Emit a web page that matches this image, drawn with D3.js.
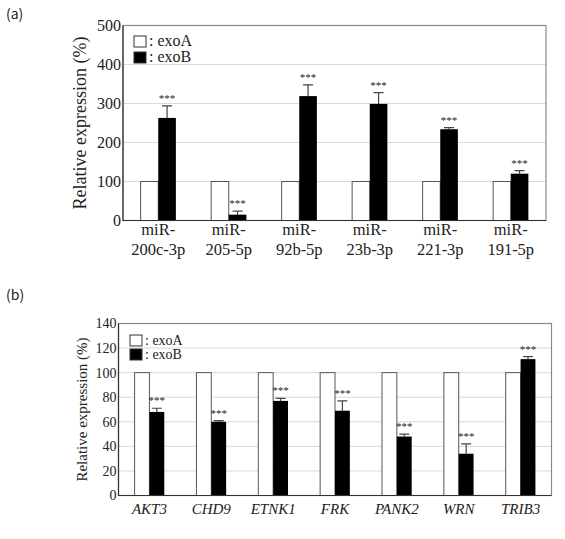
<!DOCTYPE html>
<html>
<head>
<meta charset="utf-8">
<script src="https://cdn.jsdelivr.net/npm/d3@7"></script>
<style>
  body { margin: 0; background: #fff; }
  svg { display: block; }
</style>
</head>
<body>
<script>
// panel (a) data
var miRNames = [["miR-", "200c-3p"], ["miR-", "205-5p"], ["miR-", "92b-5p"], ["miR-", "23b-3p"], ["miR-", "221-3p"], ["miR-", "191-5p"]];
var miRExoA = [100, 100, 100, 100, 100, 100];
var miRExoB = [263, 15, 319, 299, 234, 120];
var miRErr = [31, 9, 29, 29, 4, 8];
var miRTicks = [0, 100, 200, 300, 400, 500];

// panel (b) data
var genes = ["AKT3", "CHD9", "ETNK1", "FRK", "PANK2", "WRN", "TRIB3"];
var geneExoA = [100, 100, 100, 100, 100, 100, 100];
var geneExoB = [68, 60, 77, 69, 48, 34, 111];
var geneErr = [3, 1, 2, 8, 2, 8, 2];
var geneTicks = [0, 20, 40, 60, 80, 100, 120, 140];

var svg = d3.select("body").append("svg")
    .attr("width", 565)
    .attr("height", 539);

var serif = "'Liberation Serif', 'Times New Roman', serif";

// draws one bar panel
function bar_panel(cfg) {
  var x = d3.scaleBand()
      .domain(d3.range(cfg.labels.length))
      .range([cfg.left, cfg.right])
      .padding(0);
  var y = d3.scaleLinear()
      .domain([0, cfg.max])
      .range([cfg.bottom, cfg.top]);
  var bw = x.bandwidth() * cfg.barFrac;

  var g = svg.append("g");

  // gridlines
  g.selectAll(".grid")
      .data(cfg.ticks.filter(function(t) { return t > 0 && t < cfg.max; }))
    .enter().append("line")
      .attr("x1", cfg.left).attr("x2", cfg.right)
      .attr("y1", function(d) { return y(d); })
      .attr("y2", function(d) { return y(d); })
      .attr("stroke", "#d9d9d9")
      .attr("stroke-width", 1);

  // frame (top + right gray)
  g.append("rect")
      .attr("x", cfg.left).attr("y", cfg.top)
      .attr("width", cfg.right - cfg.left)
      .attr("height", cfg.bottom - cfg.top)
      .attr("fill", "none")
      .attr("stroke", "#8a8a8a")
      .attr("stroke-width", 1.2);

  // bars exoA
  g.selectAll(".barA")
      .data(cfg.exoA)
    .enter().append("rect")
      .attr("x", function(d, i) { return x(i) + x.bandwidth() / 2 - bw; })
      .attr("width", bw)
      .attr("y", function(d) { return y(d); })
      .attr("height", function(d) { return cfg.bottom - y(d); })
      .attr("fill", "#fff")
      .attr("stroke", "#555")
      .attr("stroke-width", 1);

  // error bars
  g.selectAll(".err")
      .data(cfg.exoB)
    .enter().append("path")
      .attr("d", function(d, i) {
        var cx = x(i) + x.bandwidth() / 2 + bw / 2;
        var yt = y(d + cfg.err[i]);
        return "M" + cx + "," + y(d) + "V" + yt + "M" + (cx - 5) + "," + yt + "H" + (cx + 5);
      })
      .attr("stroke", "#444")
      .attr("stroke-width", 1.2)
      .attr("fill", "none");

  // bars exoB
  g.selectAll(".barB")
      .data(cfg.exoB)
    .enter().append("rect")
      .attr("x", function(d, i) { return x(i) + x.bandwidth() / 2; })
      .attr("width", bw)
      .attr("y", function(d) { return y(d); })
      .attr("height", function(d) { return cfg.bottom - y(d); })
      .attr("fill", "#000");

  // significance stars
  g.selectAll(".star")
      .data(cfg.exoB)
    .enter().append("text")
      .attr("x", function(d, i) { return x(i) + x.bandwidth() / 2 + bw / 2; })
      .attr("y", function(d, i) { return y(d + cfg.err[i]) - 4; })
      .attr("text-anchor", "middle")
      .style("font-family", serif)
      .style("font-size", "11px")
      .attr("fill", "#222")
      .text("***");

  // left + bottom axis lines
  g.append("path")
      .attr("d", "M" + cfg.left + "," + cfg.top + "V" + cfg.bottom + "H" + cfg.right)
      .attr("stroke", "#333")
      .attr("stroke-width", 1.2)
      .attr("fill", "none");

  // y tick labels
  var yAxis = g.append("g")
      .attr("transform", "translate(" + cfg.left + ",0)")
      .call(d3.axisLeft(y).tickValues(cfg.ticks).tickSize(0).tickPadding(2));
  yAxis.select(".domain").remove();
  yAxis.selectAll("text")
      .style("font-family", serif)
      .style("font-size", cfg.tickFont)
      .attr("fill", "#222");

  // y title
  g.append("text")
      .attr("transform", "translate(" + cfg.titleX + "," + ((cfg.top + cfg.bottom) / 2) + ") rotate(-90)")
      .attr("text-anchor", "middle")
      .style("font-family", serif)
      .style("font-size", cfg.titleFont)
      .attr("fill", "#222")
      .text("Relative expression (%)");

  // x labels
  cfg.labels.forEach(function(lab, i) {
    var lines = Array.isArray(lab) ? lab : [lab];
    lines.forEach(function(s, j) {
      g.append("text")
          .attr("x", x(i) + x.bandwidth() / 2)
          .attr("y", cfg.bottom + cfg.labelY + j * 20)
          .attr("text-anchor", "middle")
          .style("font-family", serif)
          .style("font-size", cfg.labelFont)
          .style("font-style", cfg.italic ? "italic" : "normal")
          .attr("fill", "#222")
          .text(s);
    });
  });

  // legend
  var lg = [["#fff", ": exoA"], ["#000", ": exoB"]];
  lg.forEach(function(l, j) {
    var ly = cfg.legY + j * cfg.legStep;
    g.append("rect")
        .attr("x", cfg.legX).attr("y", ly)
        .attr("width", cfg.legBox).attr("height", cfg.legBox - 1)
        .attr("fill", l[0])
        .attr("stroke", "#333")
        .attr("stroke-width", 1);
    g.append("text")
        .attr("x", cfg.legX + cfg.legBox + 3)
        .attr("y", ly + cfg.legBox - 2)
        .style("font-family", serif)
        .style("font-size", cfg.legFont)
        .attr("fill", "#222")
        .text(l[1]);
  });

  // panel letter
  svg.append("text")
      .attr("x", 6)
      .attr("y", cfg.letterY)
      .style("font-family", "'Noto Sans CJK JP', 'Noto Sans', sans-serif")
      .style("font-size", "14px")
      .attr("fill", "#222")
      .text(cfg.letter);
}

bar_panel({
  labels: miRNames, exoA: miRExoA, exoB: miRExoB, err: miRErr, ticks: miRTicks, max: 500,
  left: 123, right: 546, top: 25.5, bottom: 220.5, barFrac: 0.25,
  tickFont: "16px", titleFont: "18px", titleX: 86, labelFont: "16.5px", labelY: 14, italic: false,
  legX: 134, legY: 36, legBox: 12, legStep: 16, legFont: "16px",
  letter: "(a)", letterY: 19
});

bar_panel({
  labels: genes, exoA: geneExoA, exoB: geneExoB, err: geneErr, ticks: geneTicks, max: 140,
  left: 118.5, right: 551.5, top: 323.5, bottom: 495.5, barFrac: 0.24,
  tickFont: "14px", titleFont: "15px", titleX: 87, labelFont: "15px", labelY: 18, italic: true,
  legX: 130, legY: 335, legBox: 12, legStep: 14, legFont: "14px",
  letter: "(b)", letterY: 300
});
</script>
</body>
</html>
